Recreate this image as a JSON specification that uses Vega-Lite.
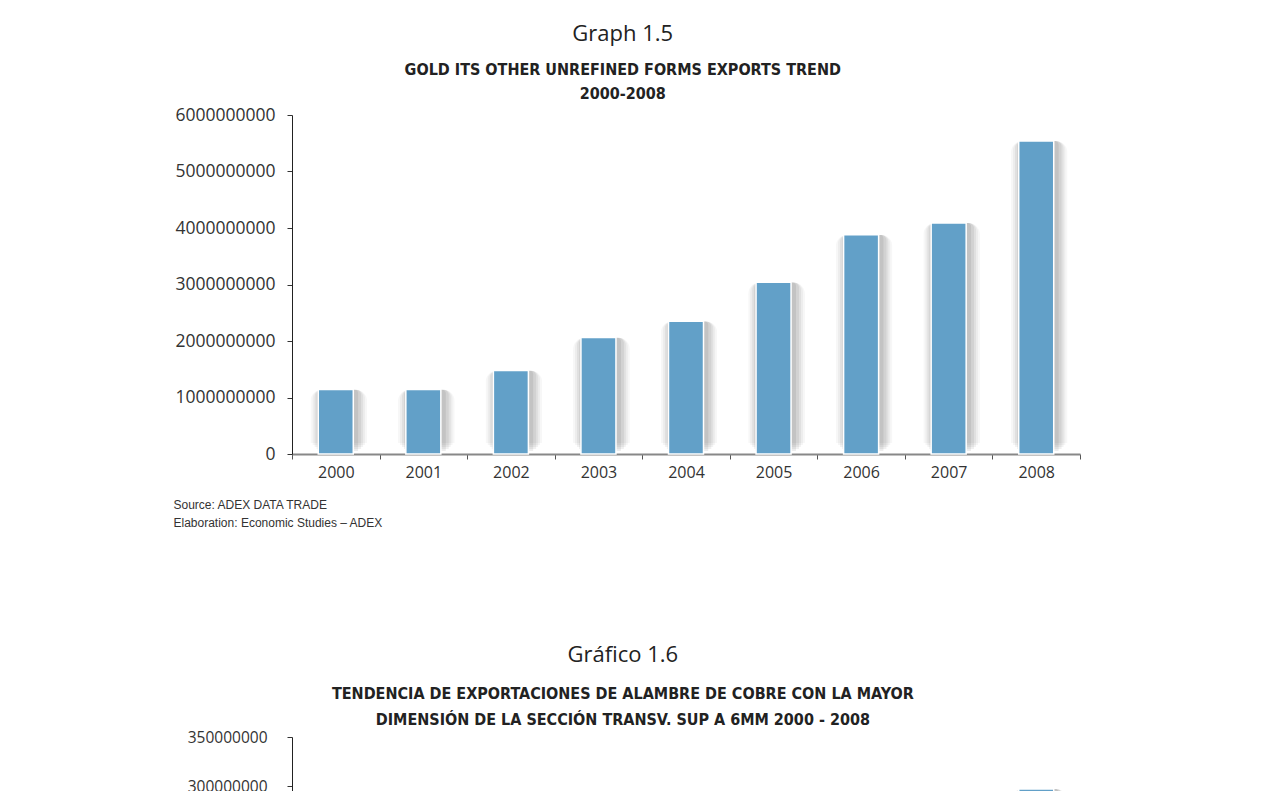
{
  "$schema": "https://vega.github.io/schema/vega-lite/v6.json",
  "background": "white",
  "padding": {"left": 173, "top": 23, "right": 10, "bottom": 0},
  "config": {"view": {"stroke": null}, "font": "Open Sans", "concat": {"spacing": 116}},
  "vconcat": [
    {
      "width": 788,
      "height": 339,
      "title": {
        "text": "Graph 1.5",
        "subtitle": ["GOLD ITS OTHER UNREFINED FORMS EXPORTS TREND", "2000-2008"],
        "frame": "bounds",
        "anchor": "middle",
        "dx": -4,
        "font": "Open Sans",
        "fontSize": 22,
        "fontWeight": "normal",
        "color": "#222",
        "subtitleFont": "DejaVu Sans Condensed",
        "subtitleFontWeight": "bold",
        "subtitleFontSize": 16,
        "subtitleColor": "#222",
        "subtitlePadding": 16,
        "subtitleLineHeight": 24,
        "offset": 3
      },
      "data": {"values": [
        {"year": "2000", "value": 1140000000},
        {"year": "2001", "value": 1140000000},
        {"year": "2002", "value": 1480000000},
        {"year": "2003", "value": 2060000000},
        {"year": "2004", "value": 2350000000},
        {"year": "2005", "value": 3040000000},
        {"year": "2006", "value": 3880000000},
        {"year": "2007", "value": 4090000000},
        {"year": "2008", "value": 5540000000}
      ]},
      "encoding": {
        "x": {
          "field": "year", "type": "ordinal",
          "scale": {"paddingInner": 0, "paddingOuter": 0},
          "axis": {
            "labelAngle": 0, "labelFontSize": 16, "labelColor": "#333", "labelPadding": 5,
            "tickBand": "extent", "tickSize": 5, "tickColor": "#555",
            "domainColor": "#888", "domainWidth": 2,
            "title": ["Source: ADEX DATA TRADE", "Elaboration: Economic Studies – ADEX"],
            "titleFont": "Liberation Sans", "titleFontSize": 12, "titleFontWeight": "normal",
            "titleColor": "#333", "titleAlign": "left", "titleAnchor": "start",
            "titleX": -119, "titleY": 45, "titleLineHeight": 18, "titleBaseline": "top"
          }
        },
        "y": {
          "field": "value", "type": "quantitative",
          "scale": {"domain": [0, 6000000000]},
          "axis": {
            "values": [0, 1000000000, 2000000000, 3000000000, 4000000000, 5000000000, 6000000000],
            "format": "d", "grid": false, "title": null,
            "labelFontSize": 17.5, "labelColor": "#333", "labelPadding": 12,
            "tickSize": 5, "tickColor": "#333", "domainColor": "#222"
          }
        }
      },
      "layer": [
        {"mark": {"type": "bar", "width": {"band": 0.65}, "color": "#000", "opacity": 0.03, "cornerRadius": 12, "yOffset": -11, "y2Offset": 0, "xOffset": 3}},
        {"mark": {"type": "bar", "width": {"band": 0.605}, "color": "#000", "opacity": 0.04, "cornerRadius": 10, "yOffset": -9, "y2Offset": 0, "xOffset": 3}},
        {"mark": {"type": "bar", "width": {"band": 0.56}, "color": "#000", "opacity": 0.05, "cornerRadius": 8, "yOffset": -7, "y2Offset": 0, "xOffset": 3}},
        {"mark": {"type": "bar", "width": {"band": 0.515}, "color": "#000", "opacity": 0.06, "cornerRadius": 6, "yOffset": -5, "y2Offset": 0, "xOffset": 3}},
        {"mark": {"type": "bar", "width": {"band": 0.47}, "color": "#000", "opacity": 0.07, "cornerRadius": 4, "yOffset": -3, "y2Offset": 0, "xOffset": 2}},
        {"mark": {"type": "bar", "width": {"band": 0.4}, "color": "#62a0c8", "stroke": "white", "strokeWidth": 1.5}}
      ]
    },
    {
      "width": 788,
      "height": 343,
      "title": {
        "text": "Gráfico 1.6",
        "subtitle": ["TENDENCIA DE EXPORTACIONES DE ALAMBRE DE COBRE CON LA MAYOR", "DIMENSIÓN DE LA SECCIÓN TRANSV. SUP A 6MM 2000 - 2008"],
        "frame": "bounds",
        "anchor": "middle",
        "dx": -11,
        "font": "Open Sans",
        "fontSize": 22,
        "fontWeight": "normal",
        "color": "#222",
        "subtitleFont": "DejaVu Sans Condensed",
        "subtitleFontWeight": "bold",
        "subtitleFontSize": 16,
        "subtitleColor": "#222",
        "subtitlePadding": 19,
        "subtitleLineHeight": 26,
        "offset": 1
      },
      "data": {"values": [
        {"year": "2008", "value": 297000000}
      ]},
      "encoding": {
        "x": {
          "field": "year", "type": "ordinal",
          "scale": {"domain": ["2000", "2001", "2002", "2003", "2004", "2005", "2006", "2007", "2008"], "paddingInner": 0, "paddingOuter": 0},
          "axis": {
            "labelAngle": 0, "labelFontSize": 16, "labelColor": "#333", "labelPadding": 5,
            "tickBand": "extent", "tickSize": 5, "tickColor": "#555",
            "domainColor": "#888", "domainWidth": 2, "title": null
          }
        },
        "y": {
          "field": "value", "type": "quantitative",
          "scale": {"domain": [0, 350000000]},
          "axis": {
            "values": [0, 50000000, 100000000, 150000000, 200000000, 250000000, 300000000, 350000000],
            "format": "d", "grid": false, "title": null,
            "labelFontSize": 15.5, "labelColor": "#333", "labelPadding": 20,
            "tickSize": 5, "tickColor": "#333", "domainColor": "#222"
          }
        }
      },
      "layer": [
        {"mark": {"type": "bar", "width": {"band": 0.65}, "color": "#000", "opacity": 0.03, "cornerRadius": 12, "yOffset": -11, "y2Offset": 0, "xOffset": 3}},
        {"mark": {"type": "bar", "width": {"band": 0.605}, "color": "#000", "opacity": 0.04, "cornerRadius": 10, "yOffset": -9, "y2Offset": 0, "xOffset": 3}},
        {"mark": {"type": "bar", "width": {"band": 0.56}, "color": "#000", "opacity": 0.05, "cornerRadius": 8, "yOffset": -7, "y2Offset": 0, "xOffset": 3}},
        {"mark": {"type": "bar", "width": {"band": 0.515}, "color": "#000", "opacity": 0.06, "cornerRadius": 6, "yOffset": -5, "y2Offset": 0, "xOffset": 3}},
        {"mark": {"type": "bar", "width": {"band": 0.47}, "color": "#000", "opacity": 0.07, "cornerRadius": 4, "yOffset": -3, "y2Offset": 0, "xOffset": 2}},
        {"mark": {"type": "bar", "width": {"band": 0.4}, "color": "#62a0c8", "stroke": "white", "strokeWidth": 1.5}}
      ]
    }
  ]
}
